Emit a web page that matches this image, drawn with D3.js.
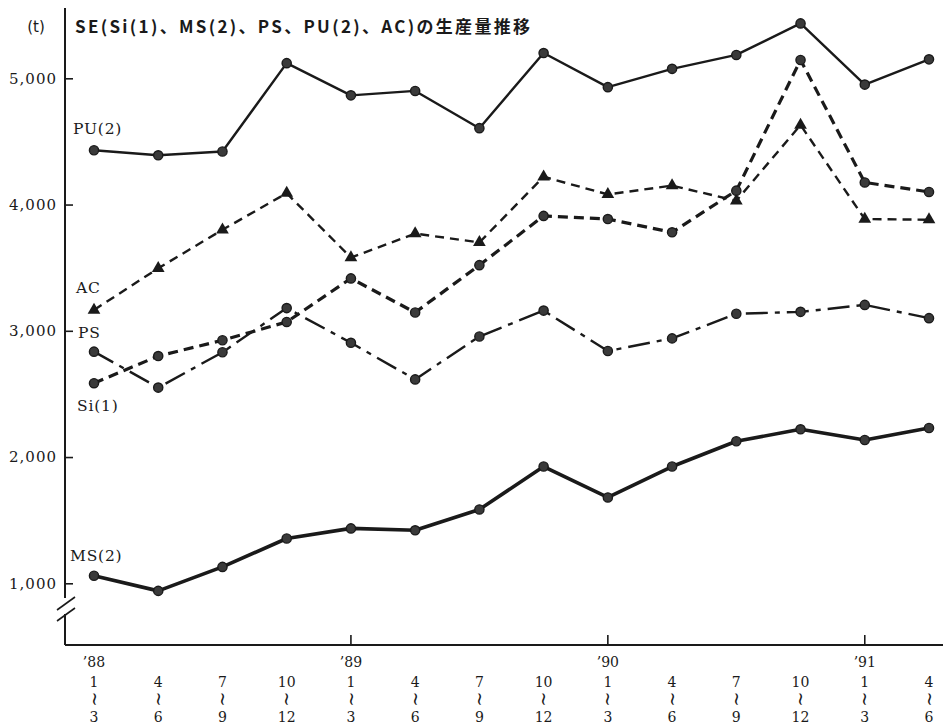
<!DOCTYPE html>
<html>
<head>
<meta charset="utf-8">
<script src="https://cdn.jsdelivr.net/npm/d3@7"></script>
<style>
  body { margin: 0; background: #fff; }
  svg { display: block; }
</style>
</head>
<body>
<div id="chart"></div>
<script>
// quarter tick labels
var qStart = ["1", "4", "7", "10", "1", "4", "7", "10", "1", "4", "7", "10", "1", "4"];
var qEnd   = ["3", "6", "9", "12", "3", "6", "9", "12", "3", "6", "9", "12", "3", "6"];
var years  = ["\u201988", "", "", "", "\u201989", "", "", "", "\u201990", "", "", "", "\u201991", ""];
var yTicks = [1000, 2000, 3000, 4000, 5000];

// series values (t)
var PU = [4430, 4390, 4420, 5120, 4865, 4900, 4605, 5200, 4930, 5075, 5185, 5435, 4950, 5150];
var AC = [3165, 3495, 3800, 4090, 3580, 3770, 3700, 4220, 4080, 4150, 4030, 4630, 3885, 3880];
var Si = [2585, 2800, 2925, 3070, 3415, 3145, 3520, 3910, 3885, 3780, 4110, 5145, 4175, 4100];
var PS = [2835, 2550, 2830, 3180, 2905, 2615, 2955, 3160, 2840, 2940, 3135, 3150, 3205, 3100];
var MS = [1060, 940, 1130, 1355, 1435, 1420, 1585, 1925, 1680, 1925, 2125, 2220, 2135, 2230];

var width = 943, height = 728;
var ink = "#1a1a1a";
var serif = "'DejaVu Serif', 'Liberation Serif', serif";

var svg = d3.select("#chart")
  .append("svg")
  .attr("width", width)
  .attr("height", height);

var idx = d3.range(qStart.length);

var x = d3.scalePoint()
  .domain(idx)
  .range([94, 929]);

var y = d3.scaleLinear()
  .domain([1000, 5000])
  .range([583.3, 78.3]);

// title
svg.append("text")
  .attr("x", 75).attr("y", 33)
  .attr("font-family", "'Noto Sans CJK JP', 'Noto Sans', sans-serif")
  .attr("font-size", 17)
  .attr("font-weight", "bold")
  .attr("fill", ink)
  .attr("textLength", 455)
  .attr("lengthAdjust", "spacing")
  .text("SE(Si(1)、MS(2)、PS、PU(2)、AC)の生産量推移");

svg.append("text")
  .attr("x", 36).attr("y", 32)
  .attr("text-anchor", "middle")
  .attr("font-family", "'DejaVu Sans', sans-serif")
  .attr("font-size", 15)
  .attr("fill", ink)
  .text("(t)");

// Y axis (ticks inward, line drawn by hand because of the break)
var axX = 65, axBottom = 645;
var yAxis = svg.append("g")
  .attr("transform", "translate(" + axX + ",0)")
  .call(d3.axisLeft(y)
    .tickValues(yTicks)
    .tickSizeInner(-8)
    .tickSizeOuter(0)
    .tickPadding(8)
    .tickFormat(d3.format(",")));
yAxis.select(".domain").remove();
yAxis.selectAll("line").attr("stroke", ink).attr("stroke-width", 1.6);
yAxis.selectAll("text")
  .attr("font-family", serif)
  .attr("font-size", 15)
  .attr("letter-spacing", 1)
  .attr("fill", ink);

svg.append("line")
  .attr("x1", axX).attr("x2", axX)
  .attr("y1", 8).attr("y2", 598)
  .attr("stroke", ink).attr("stroke-width", 2);
svg.append("line")
  .attr("x1", axX).attr("x2", axX)
  .attr("y1", 614).attr("y2", axBottom)
  .attr("stroke", ink).attr("stroke-width", 2);
// break marks
[[57, 610, 75, 597], [57, 621, 75, 608]].forEach(function(s) {
  svg.append("line")
    .attr("x1", s[0]).attr("y1", s[1])
    .attr("x2", s[2]).attr("y2", s[3])
    .attr("stroke", ink).attr("stroke-width", 1.6);
});

// X axis
svg.append("line")
  .attr("x1", axX).attr("x2", width)
  .attr("y1", axBottom).attr("y2", axBottom)
  .attr("stroke", ink).attr("stroke-width", 1.8);

var xg = svg.append("g").attr("font-family", serif).attr("fill", ink);

idx.forEach(function(i) {
  var px = x(i);
  if (years[i] !== "" && i > 0) {
    svg.append("line")
      .attr("x1", px).attr("x2", px)
      .attr("y1", axBottom - 10).attr("y2", axBottom)
      .attr("stroke", ink).attr("stroke-width", 1.6);
  }
  if (years[i] !== "") {
    xg.append("text").attr("x", px).attr("y", 667)
      .attr("text-anchor", "middle").attr("font-size", 14).text(years[i]);
  }
  xg.append("text").attr("x", px).attr("y", 687)
    .attr("text-anchor", "middle").attr("font-size", 14).text(qStart[i]);
  // vertical wave dash (range mark)
  xg.append("text")
    .attr("transform", "translate(" + px + ",699) rotate(90)")
    .attr("text-anchor", "middle")
    .attr("dy", "0.3em")
    .attr("font-size", 18)
    .text("~");
  xg.append("text").attr("x", px).attr("y", 722)
    .attr("text-anchor", "middle").attr("font-size", 14).text(qEnd[i]);
});

// series
var series = [
  {name: "PU(2)", values: PU, dash: null, width: 2.4, marker: "circle", lx: -21, ly: -16},
  {name: "AC", values: AC, dash: "9,6", width: 2.4, marker: "triangle", lx: -18, ly: -17},
  {name: "PS", values: PS, dash: "22,7,5,7", width: 2.4, marker: "circle", lx: -16, ly: -14},
  {name: "Si(1)", values: Si, dash: "10,6", width: 3.2, marker: "circle", lx: -17, ly: 28},
  {name: "MS(2)", values: MS, dash: null, width: 3.6, marker: "circle", lx: -24, ly: -15}
];

var line = d3.line()
  .x(function(d, i) { return x(i); })
  .y(function(d) { return y(d); });

series.forEach(function(s) {
  svg.append("path")
    .datum(s.values)
    .attr("d", line)
    .attr("fill", "none")
    .attr("stroke", ink)
    .attr("stroke-width", s.width)
    .attr("stroke-dasharray", s.dash)
    .attr("stroke-linejoin", "round");

  var g = svg.append("g");
  if (s.marker === "circle") {
    g.selectAll("circle")
      .data(s.values)
      .enter()
      .append("circle")
      .attr("cx", function(d, i) { return x(i); })
      .attr("cy", function(d) { return y(d); })
      .attr("r", 4.6)
      .attr("fill", "#3a3a3a")
      .attr("stroke", ink)
      .attr("stroke-width", 1.4);
  } else {
    g.selectAll("path")
      .data(s.values)
      .enter()
      .append("path")
      .attr("d", d3.symbol().type(d3.symbolTriangle).size(70))
      .attr("transform", function(d, i) { return "translate(" + x(i) + "," + y(d) + ")"; })
      .attr("fill", ink);
  }

  svg.append("text")
    .attr("x", x(0) + s.lx)
    .attr("y", y(s.values[0]) + s.ly)
    .attr("font-family", serif)
    .attr("font-size", 15.5)
    .attr("letter-spacing", 0.8)
    .attr("fill", ink)
    .text(s.name);
});
</script>
</body>
</html>
